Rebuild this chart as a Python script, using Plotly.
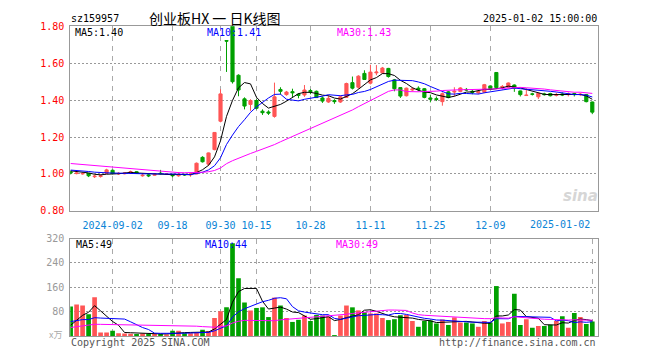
import numpy as np
import pandas as pd
import plotly.graph_objects as go

# ---------------- data ----------------
holidays = ['2024-09-16', '2024-09-17', '2024-10-01', '2024-10-02', '2024-10-03',
            '2024-10-04', '2024-10-07', '2025-01-01']
dates = [d.strftime('%Y-%m-%d') for d in pd.bdate_range('2024-08-22', '2025-01-02')
         if d.strftime('%Y-%m-%d') not in holidays]

open_ = [1.012, 1.002, 1.000, 1.002, 0.985, 0.986, 1.003, 1.020, 1.000, 1.001,
         1.006, 1.012, 0.990, 0.995, 0.993, 1.004, 0.998, 0.998, 0.990, 0.998,
         0.995, 1.000, 1.090, 1.053, 1.132, 1.286, 1.723, 1.860, 1.535, 1.407,
         1.377, 1.398, 1.340, 1.336, 1.312, 1.458, 1.430, 1.446, 1.432, 1.428,
         1.452, 1.448, 1.412, 1.390, 1.398, 1.390, 1.415, 1.495, 1.470, 1.545,
         1.492, 1.548, 1.548, 1.572, 1.510, 1.468, 1.424, 1.455, 1.465, 1.462,
         1.412, 1.408, 1.392, 1.445, 1.444, 1.447, 1.458, 1.448, 1.440, 1.443,
         1.477, 1.550, 1.470, 1.470, 1.482, 1.450, 1.425, 1.434, 1.418, 1.434,
         1.436, 1.426, 1.434, 1.430, 1.436, 1.430, 1.430, 1.390]
high = [1.018, 1.010, 1.008, 1.004, 0.995, 0.998, 1.028, 1.024, 1.010, 1.010,
        1.018, 1.015, 1.000, 1.000, 1.004, 1.022, 1.005, 1.000, 1.010, 1.000,
        1.008, 1.062, 1.096, 1.116, 1.226, 1.459, 1.723, 1.870, 1.540, 1.415,
        1.405, 1.405, 1.350, 1.345, 1.495, 1.470, 1.450, 1.462, 1.438, 1.482,
        1.460, 1.452, 1.420, 1.425, 1.405, 1.425, 1.495, 1.528, 1.535, 1.562,
        1.592, 1.590, 1.580, 1.575, 1.515, 1.470, 1.468, 1.470, 1.475, 1.466,
        1.430, 1.420, 1.442, 1.450, 1.470, 1.470, 1.466, 1.458, 1.455, 1.488,
        1.480, 1.552, 1.482, 1.496, 1.485, 1.452, 1.465, 1.440, 1.440, 1.440,
        1.440, 1.440, 1.442, 1.442, 1.440, 1.440, 1.432, 1.392]
low = [0.997, 0.998, 0.996, 0.983, 0.978, 0.980, 1.000, 0.998, 0.995, 0.998,
       1.002, 1.000, 0.985, 0.983, 0.990, 0.998, 0.995, 0.982, 0.985, 0.990,
       0.985, 0.998, 1.062, 1.043, 1.128, 1.280, 1.553, 1.490, 1.421, 1.350,
       1.342, 1.350, 1.320, 1.320, 1.305, 1.430, 1.424, 1.415, 1.410, 1.418,
       1.432, 1.412, 1.385, 1.385, 1.380, 1.385, 1.412, 1.458, 1.462, 1.510,
       1.485, 1.535, 1.542, 1.522, 1.448, 1.412, 1.420, 1.450, 1.448, 1.410,
       1.388, 1.395, 1.370, 1.410, 1.420, 1.445, 1.450, 1.432, 1.432, 1.438,
       1.455, 1.465, 1.458, 1.468, 1.445, 1.420, 1.424, 1.425, 1.406, 1.425,
       1.420, 1.420, 1.422, 1.420, 1.420, 1.422, 1.388, 1.324]
close = [1.005, 1.005, 1.003, 0.990, 0.988, 0.990, 1.022, 1.003, 1.003, 1.005,
         1.012, 1.003, 0.993, 0.990, 0.998, 1.002, 1.000, 0.990, 0.995, 0.995,
         1.000, 1.058, 1.066, 1.114, 1.225, 1.434, 1.720, 1.500, 1.455, 1.368,
         1.398, 1.356, 1.332, 1.330, 1.418, 1.448, 1.444, 1.440, 1.426, 1.455,
         1.446, 1.414, 1.395, 1.410, 1.392, 1.418, 1.490, 1.465, 1.530, 1.512,
         1.552, 1.552, 1.574, 1.528, 1.462, 1.422, 1.465, 1.460, 1.458, 1.415,
         1.405, 1.404, 1.435, 1.414, 1.448, 1.466, 1.455, 1.442, 1.446, 1.484,
         1.462, 1.468, 1.474, 1.493, 1.465, 1.430, 1.427, 1.432, 1.437, 1.430,
         1.424, 1.430, 1.428, 1.434, 1.430, 1.432, 1.392, 1.335]
volume = [97, 103, 100, 71, 127, 11, 11, 17, 9, 8,
          7, 6, 8, 6, 7, 6, 5, 17, 17, 9,
          9, 10, 20, 16, 59, 81, 94, 305, 190, 110,
          84, 92, 94, 62, 126, 100, 59, 46, 53, 67,
          49, 69, 67, 64, 3, 67, 100, 94, 84, 78,
          74, 74, 59, 52, 55, 68, 69, 49, 30, 49,
          51, 41, 54, 36, 61, 44, 44, 41, 30, 49,
          44, 164, 41, 46, 139, 36, 55, 27, 33, 33,
          37, 49, 65, 27, 75, 62, 39, 47]

# sessions before the visible window (only used to warm up the moving averages)
prior_close = [1.085, 1.080, 1.078, 1.075, 1.078, 1.095, 1.100, 1.105, 1.098, 1.095,
               1.095, 1.090, 1.085, 1.080, 1.075, 1.065, 1.058, 1.035, 1.015, 1.000,
               1.020, 1.030, 1.025, 1.025, 1.025, 1.020, 1.015, 1.020, 1.025]
prior_volume = [22, 18, 25, 20, 18, 20, 18, 15, 22, 16,
                14, 19, 17, 15, 18, 16, 20, 14, 17, 17,
                75, 62, 70, 64, 24, 18, 22, 20, 18]

tick_dates = ['2024-09-02', '2024-09-18', '2024-09-30', '2024-10-15', '2024-10-28',
              '2024-11-11', '2024-11-25', '2024-12-09', '2025-01-02']
tick_labels = ['2024-09-02', '09-18', '09-30', '10-15', '10-28',
               '11-11', '11-25', '12-09', '2025-01-02']
price_ticks = [0.80, 1.00, 1.20, 1.40, 1.60, 1.80]
volume_ticks = [80, 160, 240, 320]
price_ma_text = ['1.40', '1.41', '1.43']
volume_ma_text = ['49', '44', '49']

# ---------------- helpers ----------------
def moving_average(prior, values, n):
    s = pd.Series(list(prior) + list(values), dtype=float)
    return s.rolling(n).mean().to_numpy()[len(prior):]

ma_close = {n: moving_average(prior_close, close, n) for n in (5, 10, 30)}
ma_vol = {n: moving_average(prior_volume, volume, n) for n in (5, 10, 30)}

UP = '#ff5555'
DOWN = '#00a000'
MA_COLORS = {5: '#000000', 10: '#0000ff', 30: '#ff00ff'}
MONO = 'DejaVu Sans Mono'
W, H = 660, 360
X0, X1 = 70.3, 597.7          # plot area, pixels
P_TOP, P_BOT = 21.0, 211.3    # price panel
V_TOP, V_BOT = 240.0, 340.3   # volume panel

def fx(p):
    return p / W

def fy(p):
    return 1 - p / H

bar_colors = [UP if c > o else DOWN for o, c in zip(open_, close)]

fig = go.Figure()
fig.add_trace(go.Candlestick(
    x=dates, open=open_, high=high, low=low, close=close,
    increasing=dict(line=dict(color=UP, width=1), fillcolor=UP),
    decreasing=dict(line=dict(color=DOWN, width=1), fillcolor=DOWN),
    whiskerwidth=0, xaxis='x', yaxis='y', hoverinfo='skip', showlegend=False))
for n in (5, 10, 30):
    fig.add_trace(go.Scatter(x=dates, y=ma_close[n], mode='lines',
                             line=dict(color=MA_COLORS[n], width=1),
                             xaxis='x', yaxis='y', hoverinfo='skip', showlegend=False))

fig.add_trace(go.Bar(x=dates, y=volume, marker=dict(color=bar_colors, line=dict(width=0)),
                     xaxis='x2', yaxis='y2', hoverinfo='skip', showlegend=False))
for n in (5, 10, 30):
    fig.add_trace(go.Scatter(x=dates, y=ma_vol[n], mode='lines',
                             line=dict(color=MA_COLORS[n], width=1),
                             xaxis='x2', yaxis='y2', hoverinfo='skip', showlegend=False))

frame = dict(showline=True, mirror=True, linecolor='#999999', linewidth=1,
             zeroline=False, fixedrange=True)
xrange = [-0.05, 87.9]

fig.update_layout(
    width=W, height=H, autosize=False,
    margin=dict(l=0, r=0, t=0, b=0),
    paper_bgcolor='white', plot_bgcolor='white',
    showlegend=False, bargap=0.22, boxgap=0.25,
    xaxis=dict(domain=[fx(X0), fx(X1)], anchor='y', type='category', range=xrange,
               tickmode='array', tickvals=tick_dates[:-1], ticktext=tick_labels[:-1],
               tickfont=dict(family=MONO, size=10, color='#0a84d6'),
               ticks='', ticklabelstandoff=5,
               showgrid=True, gridcolor='#aaaaaa', griddash='5px,5px', gridwidth=1,
               rangeslider=dict(visible=False), **frame),
    yaxis=dict(domain=[fy(P_BOT), fy(P_TOP)], anchor='x', range=[0.80, 1.80],
               tickmode='array', tickvals=price_ticks,
               ticktext=['%.2f' % t for t in price_ticks],
               tickfont=dict(family=MONO, size=10, color='#ff0000'),
               ticks='', ticklabelstandoff=3,
               showgrid=True, gridcolor='#999999', griddash='2px,2px', gridwidth=1,
               **frame),
    xaxis2=dict(domain=[fx(X0), fx(X1)], anchor='y2', type='category', range=xrange,
                matches='x', tickmode='array', tickvals=tick_dates, showticklabels=False,
                ticks='', showgrid=True, gridcolor='#aaaaaa', griddash='5px,5px',
                gridwidth=1, **frame),
    yaxis2=dict(domain=[fy(V_BOT), fy(V_TOP)], anchor='x2', range=[0, 320],
                tickmode='array', tickvals=volume_ticks,
                ticktext=[str(t) for t in volume_ticks],
                tickfont=dict(family=MONO, size=10, color='#999999'),
                ticks='', ticklabelstandoff=3,
                showgrid=True, gridcolor='#999999', griddash='2px,2px', gridwidth=1,
                **frame),
)

def text(s, x, y, color='#000000', size=10, anchor='left', family=MONO, **font_kw):
    fig.add_annotation(text=s, x=fx(x), y=fy(y), xref='paper', yref='paper',
                       xanchor=anchor, yanchor='middle', showarrow=False,
                       font=dict(family=family, size=size, color=color, **font_kw))

# header
text('sz159957', 69, 13)
text('创业板HX 一 日K线图', 215, 12, size=14, anchor='center', family='Noto Sans CJK SC')
text('2025-01-02 15:00:00', 599, 13, anchor='right')
# price MA legend
text('MA5:' + price_ma_text[0], 73, 27, MA_COLORS[5])
text('MA10:' + price_ma_text[1], 205, 27, MA_COLORS[10])
text('MA30:' + price_ma_text[2], 335, 27, MA_COLORS[30])
# volume MA legend
text('MA5:' + volume_ma_text[0], 74, 246, MA_COLORS[5])
text('MA10:' + volume_ma_text[1], 203, 246, MA_COLORS[10])
text('MA30:' + volume_ma_text[2], 334, 246, MA_COLORS[30])
# last date label aligned to its tick
fig.add_annotation(text=tick_labels[-1], x=tick_dates[-1], y=fy(225), xref='x', yref='paper',
                   xanchor='right', yanchor='middle', showarrow=False,
                   font=dict(family=MONO, size=10, color='#0a84d6'))
# unit + footer
text('x万', 64, 339, '#aaaaaa', size=9, anchor='right', family='Noto Sans CJK SC')
text('Copyright 2025 SINA.COM', 69, 347, '#555555')
text('http://finance.sina.com.cn', 598, 347, '#555555', anchor='right')
# watermark
text('sina', 580, 196, '#d6d6d6', size=15, anchor='center', family='DejaVu Sans',
     weight='bold', style='italic')

fig.write_html('out.html',
               config={'displayModeBar': False, 'staticPlot': True},
               post_script="document.body.style.margin='0px';document.body.style.padding='0px';")
